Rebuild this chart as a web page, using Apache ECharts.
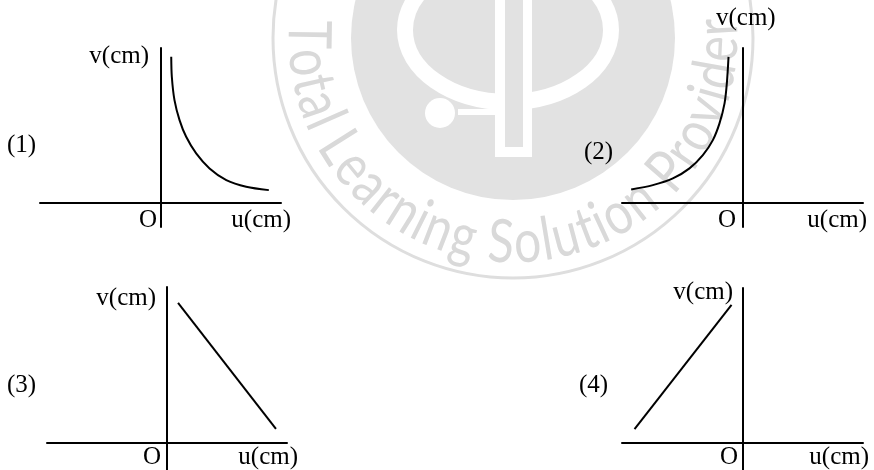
<!DOCTYPE html>
<html>
<head>
<meta charset="utf-8">
<script src="https://cdn.jsdelivr.net/npm/echarts@6/dist/echarts.min.js"></script>
<style>
html,body{margin:0;padding:0;background:#fff;}
#chart{width:874px;height:470px;}
</style>
</head>
<body>
<div id="chart"></div>
<script>
// ---- Data (arbitrary units, origin at O) ----
const curve1U = [0.89, 0.94, 1.16, 1.58, 2.13, 2.96, 4.07, 5.46, 7.11, 8.99];
const curve1V = [12.27, 10.59, 8.63, 6.96, 5.56, 4.17, 2.91, 1.93, 1.37, 1.09];
const curve2U = [-9.24, -7.44, -5.78, -4.40, -3.29, -2.46, -1.91, -1.49, -1.30, -1.16];
const curve2V = [1.15, 1.51, 2.07, 2.91, 4.02, 5.28, 6.68, 8.36, 10.03, 12.26];
const line3U = [0.92, 9.08];
const line3V = [11.67, 1.17];
const line4U = [-8.96, -0.91];
const line4V = [1.17, 11.58];

const panelNames = ['(1)', '(2)', '(3)', '(4)'];
const yLabel = 'v(cm)';
const xLabel = 'u(cm)';
const originLabel = 'O';
const watermarkText = 'Total Learning Solution Provider';

function zip(a, b) { return a.map((v, i) => [v, b[i]]); }

const chart = echarts.init(document.getElementById('chart'), null, {renderer: 'canvas'});

const grids = [
  {left: 40, top: 48, width: 241, height: 179},
  {left: 622, top: 48, width: 241, height: 179},
  {left: 47, top: 287, width: 240, height: 183},
  {left: 622, top: 288, width: 241, height: 182}
];
const yRanges = [[-2, 13], [-2, 13], [-2.25, 13], [-2.25, 13]];

const axisCommon = {
  type: 'value',
  axisLine: {show: true, onZero: true, lineStyle: {color: '#000', width: 2}},
  axisTick: {show: false},
  axisLabel: {show: false},
  splitLine: {show: false}
};

const xAxes = grids.map((g, i) => Object.assign({}, axisCommon, {gridIndex: i, min: -10, max: 10}));
const yAxes = grids.map((g, i) => Object.assign({}, axisCommon, {gridIndex: i, min: yRanges[i][0], max: yRanges[i][1]}));

const lineStyle = {color: '#000', width: 2};
const series = [
  {type: 'line', xAxisIndex: 0, yAxisIndex: 0, data: zip(curve1U, curve1V), smooth: 0.3, showSymbol: false, lineStyle, silent: true, z: 5},
  {type: 'line', xAxisIndex: 1, yAxisIndex: 1, data: zip(curve2U, curve2V), smooth: 0.3, showSymbol: false, lineStyle, silent: true, z: 5},
  {type: 'line', xAxisIndex: 2, yAxisIndex: 2, data: zip(line3U, line3V), showSymbol: false, lineStyle, silent: true, z: 5},
  {type: 'line', xAxisIndex: 3, yAxisIndex: 3, data: zip(line4U, line4V), showSymbol: false, lineStyle, silent: true, z: 5}
];

// ---- Watermark (light grey logo + arc text) ----
const WM = '#dedede';
const wcx = 513, wcy = 38;
const wm = [];
wm.push({type: 'circle', shape: {cx: wcx, cy: wcy, r: 240}, style: {fill: 'none', stroke: WM, lineWidth: 3}, z: -10, silent: true});
wm.push({type: 'circle', shape: {cx: wcx, cy: wcy, r: 162}, style: {fill: '#e2e2e2'}, z: -10, silent: true});
wm.push({type: 'ellipse', shape: {cx: 508, cy: 30, rx: 103, ry: 72}, style: {fill: 'none', stroke: '#fff', lineWidth: 16}, z: -9, silent: true});
wm.push({type: 'rect', shape: {x: 495, y: 0, width: 37, height: 157}, style: {fill: '#fff'}, z: -9, silent: true});
wm.push({type: 'rect', shape: {x: 505, y: 0, width: 18, height: 147}, style: {fill: '#e2e2e2'}, z: -8, silent: true});
wm.push({type: 'circle', shape: {cx: 440, cy: 113, r: 15}, style: {fill: '#fff'}, z: -9, silent: true});
wm.push({type: 'rect', shape: {x: 458, y: 109, width: 40, height: 6}, style: {fill: '#fff'}, z: -9, silent: true});

(function () {
  const fontSize = 60;
  const font = 'normal ' + fontSize + 'px Lato, "Open Sans", sans-serif';
  const ctx = document.createElement('canvas').getContext('2d');
  ctx.font = font;
  const chars = watermarkText.split('');
  const widths = chars.map(c => ctx.measureText(c).width);
  const centers = [];
  let acc = 0;
  widths.forEach(w => { centers.push(acc + w / 2); acc += w; });
  const a0 = 181 * Math.PI / 180, a1 = -3 * Math.PI / 180;
  const R = 205;
  const span = centers[centers.length - 1] - centers[0];
  const scale = Math.abs(a1 - a0) * R / span;
  chars.forEach((c, i) => {
    if (c === ' ') return;
    const t = (centers[i] - centers[0]) / span;
    const th = a0 + t * (a1 - a0);
    wm.push({
      type: 'text', silent: true, z: -10,
      x: wcx + R * Math.cos(th), y: wcy + R * Math.sin(th),
      rotation: Math.PI / 2 - th, scaleX: scale,
      style: {text: c, font: font, fill: '#d9d9d9', align: 'center', verticalAlign: 'middle'}
    });
  });
})();

// ---- Text labels ----
const tf = '25px "Liberation Serif", "Times New Roman", serif';
function label(text, x, y, align) {
  return {type: 'text', x: x, y: y, z: 10, silent: true,
    style: {text: text, font: tf, fill: '#000', align: align, verticalAlign: 'middle'}};
}
const labels = [
  label(yLabel, 149, 56, 'right'), label(panelNames[0], 7, 145, 'left'), label(originLabel, 157, 220, 'right'), label(xLabel, 291, 220, 'right'),
  label(yLabel, 716, 18, 'left'), label(panelNames[1], 584, 152, 'left'), label(originLabel, 736, 220, 'right'), label(xLabel, 867, 220, 'right'),
  label(yLabel, 156, 298, 'right'), label(panelNames[2], 7, 385, 'left'), label(originLabel, 161, 457, 'right'), label(xLabel, 298, 457, 'right'),
  label(yLabel, 733, 292, 'right'), label(panelNames[3], 579, 385, 'left'), label(originLabel, 738, 457, 'right'), label(xLabel, 869, 457, 'right')
];

chart.setOption({
  animation: false,
  backgroundColor: '#fff',
  grid: grids,
  xAxis: xAxes,
  yAxis: yAxes,
  series: series,
  graphic: {elements: wm.concat(labels)}
});
</script>
</body>
</html>
